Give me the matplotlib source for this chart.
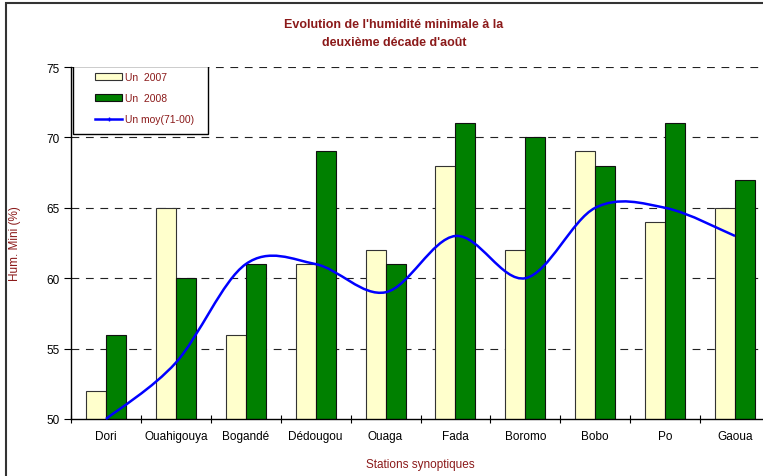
import numpy as np
import matplotlib
matplotlib.use("Agg")
import matplotlib.pyplot as plt
from matplotlib.path import Path
from matplotlib.patches import PathPatch, Rectangle
from matplotlib.lines import Line2D

plt.rcParams['font.family'] = ['Liberation Sans', 'DejaVu Sans']

stations = ['Dori', 'Ouahigouya', 'Bogandé', 'Dédougou', 'Ouaga',
            'Fada', 'Boromo', 'Bobo', 'Po', 'Gaoua']
un_2007 = [52, 65, 56, 61, 62, 68, 62, 69, 64, 65]
un_2008 = [56, 60, 61, 69, 61, 71, 70, 68, 71, 67]
un_moy = [50, 54, 61, 61, 59, 63, 60, 65, 65, 63]

red = '#8B1A1A'

fig = plt.figure(figsize=(7.63, 4.77), dpi=100)
W, H = 763, 477
ax = fig.add_axes([71 / W, 1 - 420 / H, 699 / W, 352 / H])

x = np.arange(len(stations))
bw = 0.286
ax.bar(x - bw / 2, un_2007, bw, color='#FFFFCC', edgecolor='#333333', linewidth=0.8, zorder=2)
ax.bar(x + bw / 2, un_2008, bw, color='#008000', edgecolor='#111111', linewidth=0.8, zorder=2)

# smoothed line (Excel style bezier through the points)
pts = np.column_stack([x, un_moy]).astype(float)
verts = [tuple(pts[0])]
codes = [Path.MOVETO]
n = len(pts)
for i in range(n - 1):
    p0 = pts[max(i - 1, 0)]
    p1 = pts[i]
    p2 = pts[i + 1]
    p3 = pts[min(i + 2, n - 1)]
    c1 = p1 + (p2 - p0) / 6
    c2 = p2 - (p3 - p1) / 6
    verts += [tuple(c1), tuple(c2), tuple(p2)]
    codes += [Path.CURVE4] * 3
ax.add_patch(PathPatch(Path(verts, codes), facecolor='none', edgecolor='#0000FF',
                       linewidth=1.8, zorder=3, clip_on=False))

ax.set_xlim(-0.5, len(stations) - 0.5)
ax.set_ylim(50, 75)
ax.set_yticks([50, 55, 60, 65, 70, 75])
ax.set_xticks(np.arange(len(stations) + 1) - 0.5)
ax.set_xticklabels([])
ax.set_xticks(x, minor=True)
ax.set_xticklabels(stations, minor=True)
ax.tick_params(axis='x', which='minor', length=0, pad=8, labelsize=8.5)
ax.tick_params(axis='x', which='major', direction='inout', length=6, width=0.8)
ax.tick_params(axis='y', direction='out', length=5, width=0.8, labelsize=8.5, pad=3)

for v in [55, 60, 65, 70, 75]:
    ax.axhline(v, color='#222222', linewidth=0.8, linestyle=(0, (7, 6)), zorder=1)

for s in ['top', 'right']:
    ax.spines[s].set_visible(False)
ax.spines['left'].set_linewidth(1.0)
ax.spines['bottom'].set_linewidth(1.0)

ax.set_ylabel('Hum. Mini (%)', color=red, fontsize=8.5)
ax.yaxis.set_label_coords((21 - 71) / 699, 0.5)
ax.set_xlabel('Stations synoptiques', color=red, fontsize=8.5)
ax.xaxis.set_label_coords(0.5, -(459 - 420) / 352)

fig.text(394 / W, 1 - 25 / H, "Evolution de l'humidité minimale à la",
         ha='center', va='center', color=red, fontsize=9, fontweight='bold')
fig.text(394 / W, 1 - 43 / H, "deuxième décade d'août",
         ha='center', va='center', color=red, fontsize=9, fontweight='bold')

# legend
handles = [Rectangle((0, 0), 1, 1, facecolor='#FFFFCC', edgecolor='#333333', linewidth=0.8),
           Rectangle((0, 0), 1, 1, facecolor='#008000', edgecolor='#111111', linewidth=0.8),
           Line2D([], [], color='#0000FF', linewidth=1.8, marker='+', markersize=3)]
leg = ax.legend(handles, ['Un  2007', 'Un  2008', 'Un moy(71-00)'],
                loc='upper left', bbox_to_anchor=((92 - 71) / 699, 1 - 2 / 352),
                frameon=False, fontsize=7.5, handlelength=2.6, handleheight=0.6,
                handletextpad=0.3, labelspacing=1.05, borderpad=0.3, borderaxespad=0)
for t in leg.get_texts():
    t.set_color(red)
ax.add_patch(Rectangle(((73 - 71) / 699, 1 - (135 - 68) / 352), (208 - 73) / 699, (135 - 67) / 352,
                       transform=ax.transAxes, facecolor='white', edgecolor='black',
                       linewidth=1.0, zorder=4))
leg.set_zorder(5)

# chart border
fig.patches.append(Rectangle((6 / W, -0.1), 1.2, 1 - 4 / H + 0.1, transform=fig.transFigure,
                             facecolor='none', edgecolor='#333333', linewidth=1.5))

fig.savefig('out.png', dpi=100)
